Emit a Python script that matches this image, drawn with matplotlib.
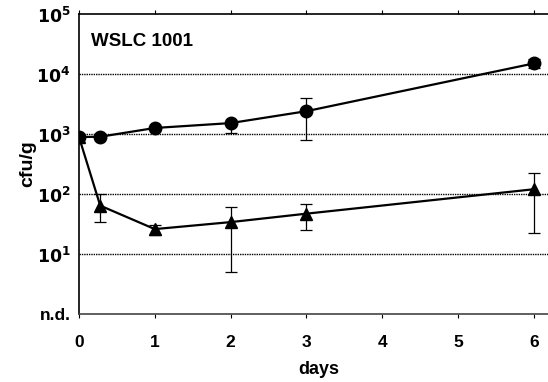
import matplotlib
matplotlib.use("Agg")
import matplotlib.pyplot as plt
import numpy as np

plt.rcParams['font.family'] = ['Liberation Sans', 'DejaVu Sans']

# Survival of WSLC 1001 over time (cfu/g), two treatments
days_circle = [0, 0.28, 1, 2, 3, 6]
cfu_circle = [890, 900, 1260, 1520, 2400, 15000]
err_circle_lo = [0, 0, 0, 500, 1600, 2500]
err_circle_hi = [0, 0, 0, 0, 1600, 2500]

days_tri = [0, 0.28, 1, 2, 3, 6]
cfu_tri = [890, 64, 26, 34, 47, 120]
err_tri_lo = [0, 30, 5, 29, 22, 98]
err_tri_hi = [0, 36, 4, 27, 21, 104]

x_ticks = [0, 1, 2, 3, 4, 5, 6]
y_ticks = [1, 10, 100, 1000, 10000, 100000]
y_labels = ['n.d.', r'$\mathbf{10^1}$', r'$\mathbf{10^2}$', r'$\mathbf{10^3}$',
            r'$\mathbf{10^4}$', r'$\mathbf{10^5}$']

fig = plt.figure(figsize=(5.48, 3.82), dpi=100)
ax = fig.add_axes([79/548, 68/382, 480/548, 300/382])
ax.set_yscale('log')
ax.set_ylim(1, 1e5)
ax.set_xlim(0, 480/75.8)

for yv in [10, 100, 1000, 10000]:
    ax.axhline(yv, color='black', lw=1.0, ls=(0, (1, 0.7)), zorder=1)

ax.errorbar(days_circle, cfu_circle, yerr=[err_circle_lo, err_circle_hi],
            fmt='o-', color='black', ms=9, lw=1.6, elinewidth=0.9,
            capsize=4, capthick=0.9, zorder=3)
ax.errorbar(days_tri, cfu_tri, yerr=[err_tri_lo, err_tri_hi],
            fmt='^-', color='black', ms=9, lw=1.6, elinewidth=0.9,
            capsize=4, capthick=0.9, zorder=3)

ax.set_xticks(x_ticks)
ax.set_xticklabels([str(t) for t in x_ticks], fontsize=12.5, fontweight='bold')
ax.set_yticks(y_ticks)
ax.set_yticklabels(y_labels, fontsize=12.5, fontweight='bold')
ax.yaxis.set_minor_locator(matplotlib.ticker.NullLocator())
ax.tick_params(axis='y', length=0, pad=6)
ax.tick_params(axis='x', direction='out', length=3, width=0.8, pad=12,
               top=True)
ax.tick_params(axis='x', which='both', labeltop=False)

ax.set_xlabel('days', fontsize=13, fontweight='bold', labelpad=8)
ax.set_ylabel('cfu/g', fontsize=14, fontweight='bold', labelpad=0)

ax.text(0.025, 0.935, 'WSLC 1001', transform=ax.transAxes, fontsize=13.5,
        fontweight='bold', va='top', ha='left')

for s in ['left', 'top', 'bottom']:
    ax.spines[s].set_linewidth(1.2)
ax.spines['right'].set_visible(False)
ax.spines['bottom'].set_color('#444444')

fig.savefig('out.png', dpi=100)
